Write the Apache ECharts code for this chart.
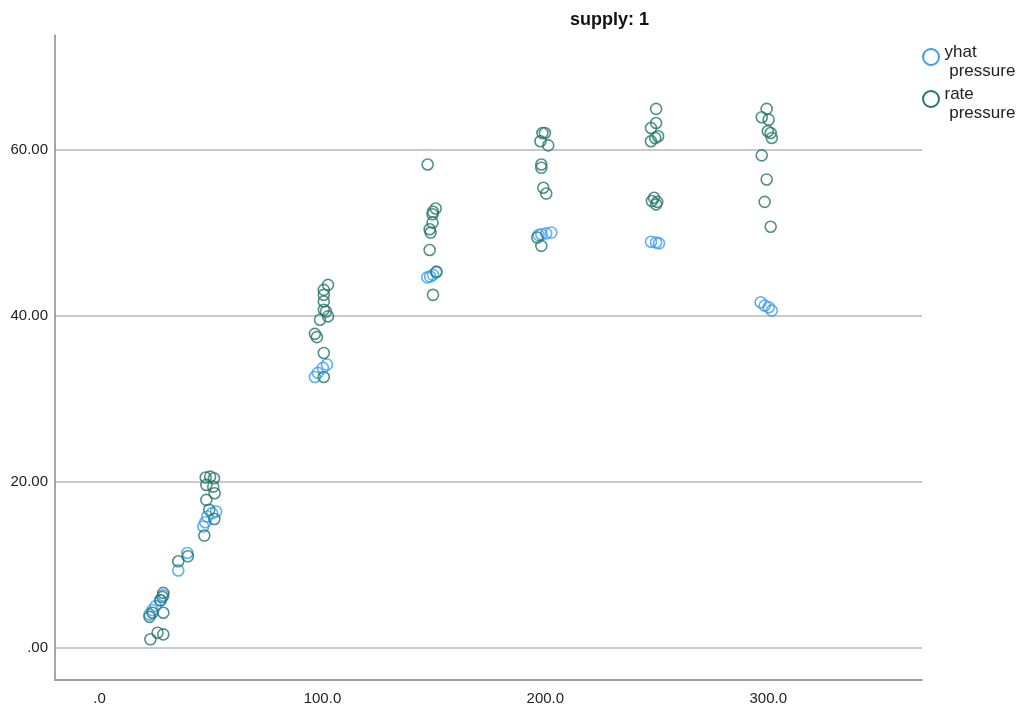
<!DOCTYPE html>
<html>
<head>
<meta charset="utf-8">
<script src="https://cdn.jsdelivr.net/npm/echarts@6/dist/echarts.min.js"></script>
<style>html,body{margin:0;padding:0;background:#fff;}#chart{width:1027px;height:708px;}</style>
</head>
<body>
<div id="chart"></div>
<script>
const titleText = 'supply: 1';
const seriesNames = ['yhat\n pressure', 'rate\n pressure'];
const xTicks = [0, 100, 200, 300];
const yTicks = [0, 20, 40, 60];

const yhatPressure = [
  [22.4,4.0],[23.7,4.5],[25.1,5.0],[27.3,5.7],[28.6,6.3],
  [35.3,9.3],[39.4,11.4],
  [46.5,14.6],[47.4,15.1],[48.3,15.8],[50.5,16.2],[52.3,16.4],
  [96.6,32.6],[97.9,33.1],[100.2,33.7],[102.0,34.1],
  [147.0,44.6],[148.3,44.7],[149.6,44.9],[151.0,45.2],
  [197.0,49.7],[198.2,49.8],[200.4,49.9],[202.7,50.0],
  [247.4,48.9],[249.7,48.8],[251.0,48.7],
  [296.6,41.6],[298.4,41.2],[300.2,41.0],[301.6,40.6]
];

const ratePressure = [
  [22.8,1.0],[26.0,1.8],[28.6,1.6],[22.4,3.7],[23.7,4.2],[28.6,4.2],[27.3,5.7],[28.2,6.1],[28.6,6.6],
  [35.3,10.4],[39.6,11.0],
  [47.6,20.5],[49.6,20.6],[51.3,20.4],[47.9,19.6],[51.0,19.4],[51.6,18.6],[47.9,17.8],[49.2,16.6],[51.5,15.5],[47.0,13.5],
  [102.5,43.7],[100.6,43.1],[100.6,42.5],[100.6,41.7],[100.6,40.7],[101.6,40.5],[102.5,39.9],[98.9,39.5],[96.6,37.8],[97.5,37.4],[100.6,35.5],[100.6,32.6],
  [147.2,58.2],[150.8,52.9],[149.6,52.5],[149.4,52.2],[149.4,51.2],[148.1,50.4],[148.5,50.0],[148.1,47.9],[151.2,45.3],[149.6,42.5],
  [198.7,62.0],[199.8,62.0],[197.8,61.0],[201.3,60.5],[198.2,58.2],[198.2,57.8],[199.1,55.4],[200.4,54.7],[196.4,49.4],[198.2,48.4],
  [249.7,64.9],[249.7,63.2],[247.4,62.6],[250.6,61.6],[249.3,61.4],[247.4,61.0],[248.8,54.2],[250.2,53.7],[249.7,53.4],[247.8,53.8],
  [299.3,64.9],[297.1,63.9],[300.2,63.6],[299.8,62.2],[301.1,62.0],[301.6,61.4],[297.1,59.3],[299.3,56.4],[298.4,53.7],[301.1,50.7]
];

const colors = ['#3a9ded', '#25766a'];
const fontFamily = "'Liberation Sans', Arial, sans-serif";

// legend drawn as graphic elements (icon + two-line label per series)
const legendItems = seriesNames.map((name, i) => ({
  type: 'group',
  left: 922, top: 43 + i * 42,
  children: [
    {type: 'circle', shape: {cx: 9.5, cy: 14, r: 8}, style: {fill: 'rgba(0,0,0,0)', stroke: colors[i], lineWidth: 2}},
    {type: 'text', x: 23, y: 0, style: {text: name, fontFamily: fontFamily, fontSize: 17, lineHeight: 19, fill: '#222', verticalAlign: 'top'}}
  ]
}));

const chart = echarts.init(document.getElementById('chart'), null, {renderer: 'canvas'});
chart.setOption({
  backgroundColor: '#fff',
  animation: false,
  title: {
    text: titleText,
    left: 570, top: 11, padding: 0,
    textStyle: {fontFamily: fontFamily, fontSize: 18, fontWeight: 'bold', color: '#111'}
  },
  graphic: legendItems,
  grid: {left: 55, right: 105, top: 35, bottom: 28, containLabel: false},
  xAxis: {
    type: 'value', min: -20, max: 369,
    axisLine: {show: true, onZero: false, lineStyle: {color: '#a0a0a0', width: 2}},
    axisTick: {show: false, customValues: xTicks},
    splitLine: {show: false},
    axisLabel: {
      customValues: xTicks, margin: 11,
      fontFamily: fontFamily, fontSize: 15, color: '#222',
      formatter: v => v === 0 ? '.0' : v.toFixed(1)
    }
  },
  yAxis: {
    type: 'value', min: -3.9, max: 73.8,
    axisLine: {show: true, onZero: false, lineStyle: {color: '#8a8a8a', width: 1.5}},
    axisTick: {show: false, customValues: yTicks},
    splitLine: {show: true, lineStyle: {color: '#cacaca', width: 2}},
    axisLabel: {
      customValues: yTicks, margin: 7,
      fontFamily: fontFamily, fontSize: 15, color: '#222',
      formatter: v => v === 0 ? '.00' : v.toFixed(2)
    }
  },
  series: [
    {
      name: seriesNames[0], type: 'scatter', data: yhatPressure,
      symbol: 'circle', symbolSize: 11,
      itemStyle: {color: 'rgba(0,0,0,0)', borderColor: colors[0], borderWidth: 1.6}
    },
    {
      name: seriesNames[1], type: 'scatter', data: ratePressure,
      symbol: 'circle', symbolSize: 11,
      itemStyle: {color: 'rgba(0,0,0,0)', borderColor: colors[1], borderWidth: 1.6}
    }
  ]
});
</script>
</body>
</html>
